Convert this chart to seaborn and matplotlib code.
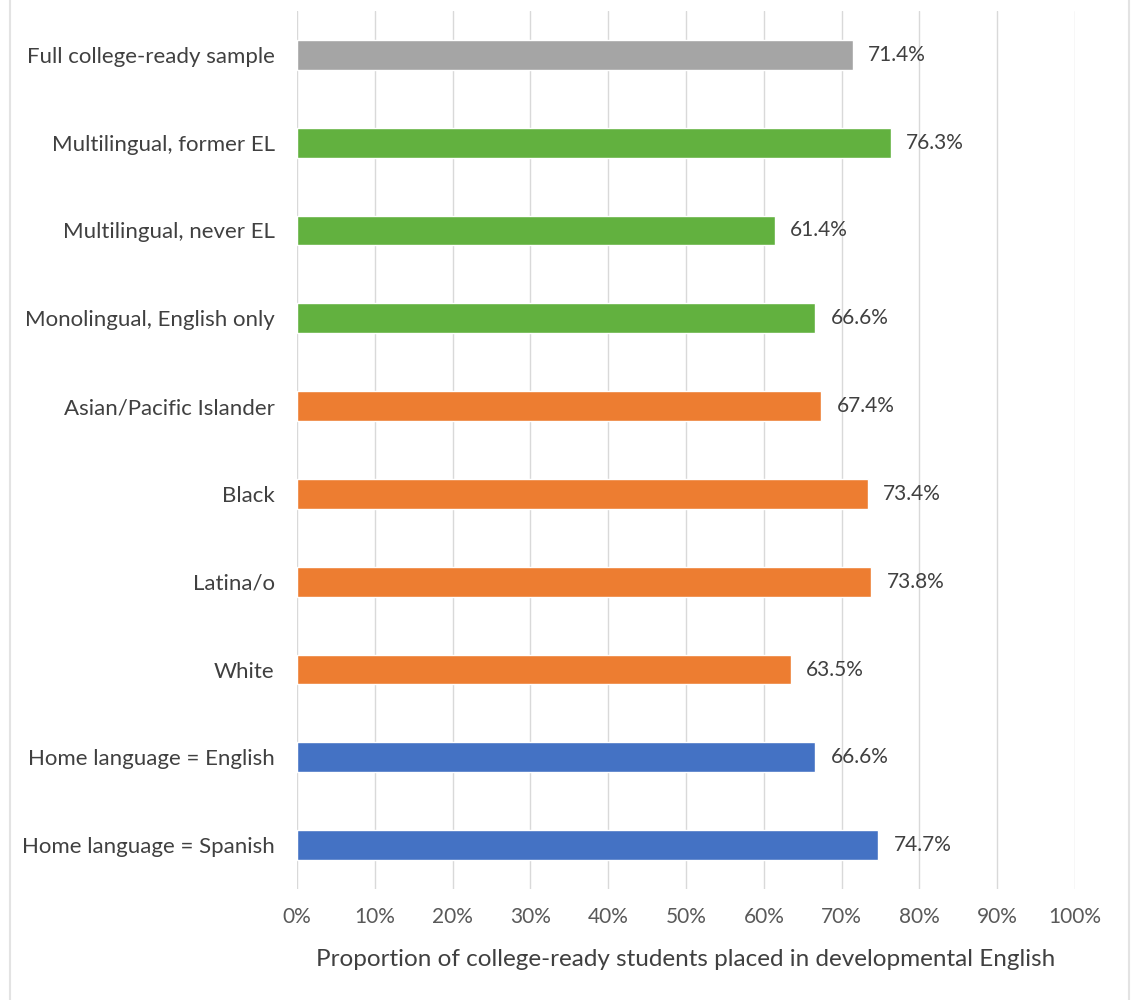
import matplotlib
matplotlib.use("Agg")
import matplotlib.pyplot as plt
from matplotlib.lines import Line2D
from matplotlib.ticker import PercentFormatter, MultipleLocator
import seaborn as sns
import pandas as pd

groups = [
    "Full college-ready sample",
    "Multilingual, former EL",
    "Multilingual, never EL",
    "Monolingual, English only",
    "Asian/Pacific Islander",
    "Black",
    "Latina/o",
    "White",
    "Home language = English",
    "Home language = Spanish",
]
shares = [71.4, 76.3, 61.4, 66.6, 67.4, 73.4, 73.8, 63.5, 66.6, 74.7]
bar_colors = ["#A5A5A5", "#62B13F", "#62B13F", "#62B13F",
              "#ED7D31", "#ED7D31", "#ED7D31", "#ED7D31",
              "#4472C4", "#4472C4"]

df = pd.DataFrame({"group": groups, "share": shares})

sns.set_style("white")
plt.rcParams["font.family"] = ["Lato", "DejaVu Sans"]

fig = plt.figure(figsize=(11.34, 10), dpi=100)
ax = fig.add_axes([0.2619, 0.111, 0.6861, 0.878])

sns.barplot(data=df, x="share", y="group", hue="group", palette=bar_colors,
            order=groups, hue_order=groups, orient="h", width=0.34,
            legend=False, saturation=1, ax=ax)

for cont in ax.containers:
    ax.bar_label(cont, fmt="%.1f%%", padding=11, fontsize=15, color="#404040")

ax.set_xlim(0, 100)
ax.set_ylim(9.5, -0.5)
ax.xaxis.set_major_locator(MultipleLocator(10))
ax.xaxis.set_major_formatter(PercentFormatter(decimals=0))
ax.grid(axis="x", color="#D9D9D9", linewidth=1)
ax.set_axisbelow(True)
for s in ax.spines.values():
    s.set_visible(False)
ax.tick_params(axis="x", labelsize=15, labelcolor="#595959", pad=13, length=0)
ax.tick_params(axis="y", labelsize=16, labelcolor="#404040", pad=16, length=0)
ax.set_ylabel("")
ax.set_xlabel("Proportion of college-ready students placed in developmental English",
              fontsize=17.5, color="#404040", labelpad=16)

# light frame lines at the figure edges
fig.add_artist(Line2D([0.009, 0.009], [0, 1], transform=fig.transFigure,
                      color="#E3E3E3", linewidth=1.5))
fig.add_artist(Line2D([0.9955, 0.9955], [0, 1], transform=fig.transFigure,
                      color="#E3E3E3", linewidth=1.5))

fig.savefig("out.png", dpi=100)
